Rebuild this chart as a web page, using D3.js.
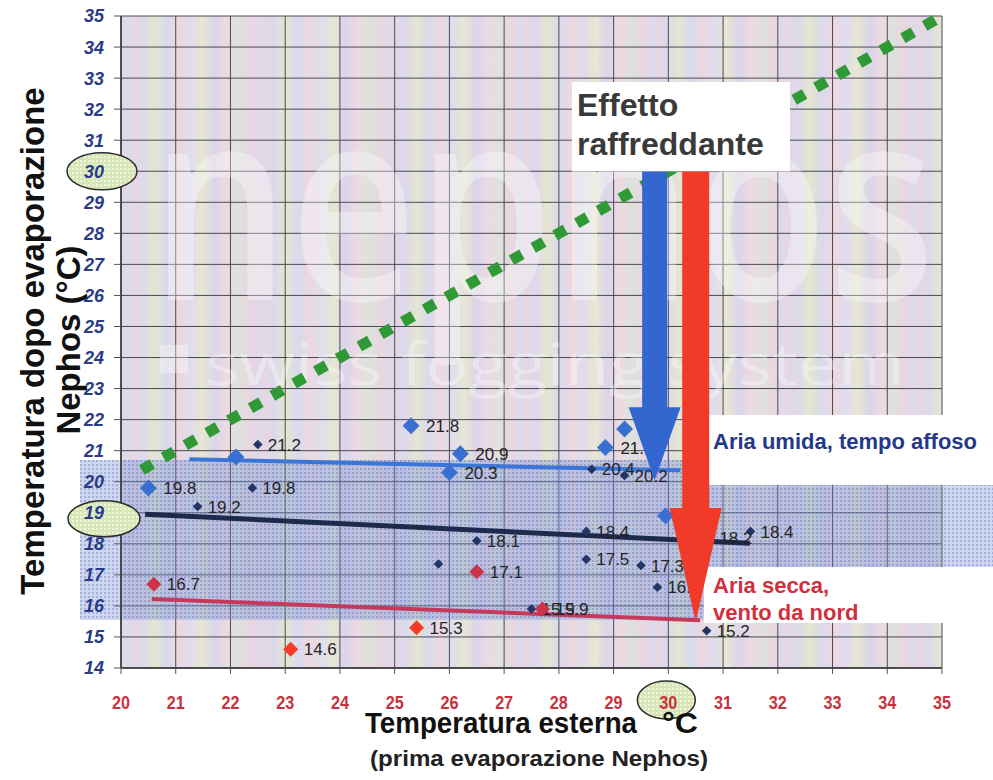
<!DOCTYPE html>
<html><head><meta charset="utf-8">
<script src="https://cdn.jsdelivr.net/npm/d3@7"></script>
<style>
html,body{margin:0;padding:0;background:#fff;}
svg{display:block;font-family:"Liberation Sans",Arial,sans-serif;}
</style></head>
<body>
<svg id="chart" width="993" height="780"></svg>
<script>
// ---------- data ----------
const xTicks = [20,21,22,23,24,25,26,27,28,29,30,31,32,33,34,35];
const yTicks = [14,15,16,17,18,19,20,21,22,23,24,25,26,27,28,29,30,31,32,33,34,35];

// "Aria umida" series (large light-blue diamonds)
const humidX = [20.5, 22.1, 25.3, 26.2, 26.0, 28.85, 29.2, 29.95];
const humidY = [19.8, 20.8, 21.8, 20.9, 20.3, 21.1, 21.7, 18.9];
const humidLabels = ["19.8", "", "21.8", "20.9", "20.3", "21.1", "21.7", "18.9"];

// average series (small navy diamonds)
const avgX = [22.5, 22.4, 21.4, 26.5, 25.8, 28.5, 28.5, 29.5, 29.8, 28.6, 29.2, 31.5, 30.75, 27.5, 30.7];
const avgY = [21.2, 19.8, 19.2, 18.1, 17.35, 18.4, 17.5, 17.3, 16.6, 20.4, 20.2, 18.4, 18.2, 15.9, 15.2];
const avgLabels = ["21.2","19.8","19.2","18.1","","18.4","17.5","17.3","16.6","20.4","20.2","18.4","18.2","15.9","15.2"];

// "Aria secca" series (red diamonds)
const dryX = [20.6, 26.5, 27.7];
const dryY = [16.7, 17.1, 15.9];
const dryLabels = ["16.7", "17.1", "15.9"];
const dry2X = [23.1, 25.4];
const dry2Y = [14.6, 15.3];
const dry2Labels = ["14.6", "15.3"];

// trend lines
const humidTrendX = [21.25, 30.22], humidTrendY = [20.72, 20.37];
const avgTrendX = [20.44, 31.49],  avgTrendY = [18.95, 18.02];
const dryTrendX = [20.56, 30.58],  dryTrendY = [16.22, 15.54];
const identityX = [20.38, 35];     // y = x (no cooling)

// cooling arrows: from 30 °C down to the trend value
const arrowX = [29.75, 30.5];
const arrowFrom = [30, 30];
const arrowTo = [20.05, 15.48];

// ---------- layout ----------
const svg = d3.select("#chart");
const x = d3.scaleLinear().domain([20,35]).range([121,942]);
const y = d3.scaleLinear().domain([14,35]).range([668,16]);
const defs = svg.append("defs");

// pastel streaky background (soft vertical gradient stripes)
const grad = defs.append("linearGradient").attr("id","streak").attr("x1","0").attr("x2","1").attr("y1","0").attr("y2","0");
const streakCols = ["#ead6e0","#dcd9ec","#e6e5cf","#d8daee","#eed8df","#dfdded","#e8e6d2","#dad5ea","#ecdae2","#dde2dc","#e9d6e0","#dadbee"];
streakCols.forEach((c,i)=>grad.append("stop").attr("offset",(i/(streakCols.length-1))).attr("stop-color",c));
const stripe = defs.append("pattern").attr("id","stripes").attr("patternUnits","userSpaceOnUse")
  .attr("width",131).attr("height",20);
stripe.append("rect").attr("width",131).attr("height",20).attr("fill","url(#streak)");

// dotted pattern for highlight bands
const dots = defs.append("pattern").attr("id","dots").attr("patternUnits","userSpaceOnUse").attr("width",4).attr("height",4);
dots.append("rect").attr("width",4).attr("height",4).attr("fill","rgba(120,145,210,0.36)");
dots.append("rect").attr("width",2).attr("height",2).attr("fill","rgba(70,95,170,0.32)");

const gdots = defs.append("pattern").attr("id","gdots").attr("patternUnits","userSpaceOnUse").attr("width",4).attr("height",4);
gdots.append("rect").attr("width",4).attr("height",4).attr("fill","#d7e6b6");
gdots.append("rect").attr("width",2).attr("height",2).attr("fill","#eef5dc");

// plot background
svg.append("rect").attr("x",x(20)).attr("y",y(35)).attr("width",x(35)-x(20)).attr("height",y(14)-y(35))
  .attr("fill","url(#stripes)");

// grid
const grid = svg.append("g");
grid.selectAll(".vg").data(xTicks).join("line")
  .attr("x1",d=>x(d)).attr("x2",d=>x(d)).attr("y1",y(35)).attr("y2",y(14))
  .attr("stroke","#4a4a55").attr("stroke-width",1);
grid.selectAll(".hg").data(yTicks).join("line")
  .attr("x1",x(20)).attr("x2",x(35)).attr("y1",d=>y(d)).attr("y2",d=>y(d))
  .attr("stroke","#4a4a55").attr("stroke-width",1);

// watermark
const wm = svg.append("g").attr("fill","#ffffff").attr("opacity",0.34).style("pointer-events","none");
wm.append("text").attr("x",150).attr("y",300).attr("font-size",270).attr("font-weight",600).attr("font-family","'Open Sans',sans-serif")
  .attr("textLength",785).attr("lengthAdjust","spacingAndGlyphs").text("nephos");
wm.append("rect").attr("x",160).attr("y",345).attr("width",28).attr("height",28);
wm.append("text").attr("x",205).attr("y",385).attr("font-size",58).attr("font-family","'Open Sans',sans-serif")
  .attr("textLength",700).attr("lengthAdjust","spacingAndGlyphs").text("swiss fogging system");

// highlight bands
svg.append("rect").attr("x",80).attr("y",y(20.7)).attr("width",x(30.65)-80).attr("height",y(15.55)-y(20.7))
  .attr("fill","url(#dots)");
svg.append("rect").attr("x",x(30.65)).attr("y",y(19.9)).attr("width",993-x(30.65)).attr("height",y(17.25)-y(19.9))
  .attr("fill","url(#dots)");
// white label boxes
svg.append("rect").attr("x",x(30.65)).attr("y",y(22.15)).attr("width",993-x(30.65)).attr("height",y(19.9)-y(22.15)).attr("fill","#fff");
svg.append("rect").attr("x",x(30.65)).attr("y",y(17.25)).attr("width",993-x(30.65)).attr("height",y(15.45)-y(17.25)).attr("fill","#fff");

// axes lines and ticks
svg.append("line").attr("x1",x(20)).attr("x2",x(20)).attr("y1",y(35)).attr("y2",y(14)).attr("stroke","#333").attr("stroke-width",1.5);
svg.append("line").attr("x1",x(20)).attr("x2",x(35)).attr("y1",y(14)).attr("y2",y(14)).attr("stroke","#333").attr("stroke-width",1.5);
svg.selectAll(".yt").data(yTicks).join("line").attr("x1",x(20)-7).attr("x2",x(20)).attr("y1",d=>y(d)).attr("y2",d=>y(d)).attr("stroke","#555");
svg.selectAll(".xt").data(xTicks).join("line").attr("x1",d=>x(d)).attr("x2",d=>x(d)).attr("y1",y(14)).attr("y2",y(14)+6).attr("stroke","#555");

// ellipses highlighting 30 / 19 / 30
const ell = [[102,y(30),35,18.5],[104,y(19)+6,36,18],[x(30)-2,700,29,19]];
svg.selectAll(".ell").data(ell).join("ellipse")
  .attr("cx",d=>d[0]).attr("cy",d=>d[1]).attr("rx",d=>d[2]).attr("ry",d=>d[3])
  .attr("fill","url(#gdots)").attr("stroke","#2c2c2c").attr("stroke-width",1.5);

// tick labels
svg.selectAll(".yl").data(yTicks).join("text")
  .attr("x",104).attr("y",d=>y(d)).attr("dy","0.36em").attr("text-anchor","end")
  .attr("font-size",18).attr("font-weight","bold").attr("font-style","italic").attr("fill","#2a3c88")
  .text(d=>d);
svg.selectAll(".xl").data(xTicks).join("text")
  .attr("x",d=>x(d)).attr("y",709).attr("text-anchor","middle")
  .attr("font-size",19).attr("font-weight","bold").attr("fill","#c8323c")
  .attr("textLength",18).attr("lengthAdjust","spacingAndGlyphs")
  .text(d=>d);

// axis titles
const yt = svg.append("g").attr("font-weight","bold").attr("font-size",33).attr("fill","#111").attr("text-anchor","middle");
yt.append("text").attr("transform","translate(44,341) rotate(-90)").text("Temperatura dopo evaporazione");
yt.append("text").attr("transform","translate(80,340) rotate(-90)").text("Nephos (°C)");
const xt = svg.append("g").attr("font-weight","bold").attr("fill","#111");
xt.append("text").attr("x",365).attr("y",733).attr("font-size",29)
  .attr("textLength",272).attr("lengthAdjust","spacingAndGlyphs").text("Temperatura esterna");
xt.append("text").attr("x",662).attr("y",733).attr("font-size",29)
  .attr("textLength",36).attr("lengthAdjust","spacingAndGlyphs").text("°C");
xt.append("text").attr("x",370).attr("y",766).attr("font-size",22).attr("fill","#222")
  .attr("textLength",338).attr("lengthAdjust","spacingAndGlyphs").text("(prima evaporazione Nephos)");

// identity (dotted green) line
svg.append("line").attr("x1",x(identityX[0])).attr("y1",y(identityX[0])).attr("x2",x(identityX[1])).attr("y2",y(identityX[1]))
  .attr("stroke","#2f9a35").attr("stroke-width",11).attr("stroke-dasharray","12,13");

// trend lines
const line = d3.line().x(d=>x(d[0])).y(d=>y(d[1]));
function trend(xs, ys, col, w){
  svg.append("path").attr("d", line(d3.zip(xs,ys))).attr("stroke",col).attr("stroke-width",w).attr("fill","none");
}
trend(humidTrendX, humidTrendY, "#3b76d6", 4);
trend(avgTrendX, avgTrendY, "#1d2a4c", 5);
trend(dryTrendX, dryTrendY, "#c53a5c", 4);

// points
function diamonds(xs, ys, labels, col, r, off){
  const g = svg.append("g");
  const data = d3.zip(xs, ys, labels);
  g.selectAll("path").data(data).join("path")
    .attr("d", `M0,${-r}L${r},0L0,${r}L${-r},0Z`)
    .attr("transform", d=>`translate(${x(d[0])},${y(d[1])})`)
    .attr("fill", col);
  g.selectAll("text").data(data.filter(d=>d[2])).join("text")
    .attr("x", d=>x(d[0])+off).attr("y", d=>y(d[1])).attr("dy","0.36em")
    .attr("font-size",17).attr("fill","#252525").text(d=>d[2]);
}
diamonds(humidX, humidY, humidLabels, "#3a6fd2", 8.5, 15);
diamonds(avgX, avgY, avgLabels, "#223566", 4.8, 10);
diamonds(dryX, dryY, dryLabels, "#cc3348", 7.5, 13);
diamonds(dry2X, dry2Y, dry2Labels, "#f53a2a", 7.5, 13);

// arrows
function arrow(cx, y0, y1, shaftW, headW, headL, col){
  const t = y(y0), b = y(y1), hy = b - headL;
  const pts = [[cx-shaftW/2,t],[cx+shaftW/2,t],[cx+shaftW/2,hy],[cx+headW/2,hy],[cx,b],[cx-headW/2,hy],[cx-shaftW/2,hy]];
  svg.append("path").attr("d","M"+pts.map(p=>p.join(",")).join("L")+"Z").attr("fill",col);
}
arrow(x(arrowX[0]), arrowFrom[0], arrowTo[0], 25, 52, 73, "#3466cf");
arrow(x(arrowX[1]), arrowFrom[1], arrowTo[1], 27, 52, 114, "#f23a28");

// Effetto raffreddante box
svg.append("rect").attr("x",572).attr("y",82).attr("width",218).attr("height",y(30)-82).attr("fill","#fff");
const ef = svg.append("g").attr("font-weight","bold").attr("font-size",32).attr("fill","#3a3a3a");
ef.append("text").attr("x",577).attr("y",116).text("Effetto");
ef.append("text").attr("x",577).attr("y",155).text("raffreddante");

// annotation labels
svg.append("text").attr("x",713).attr("y",449).attr("font-size",22).attr("font-weight","bold").attr("fill","#24388a").text("Aria umida, tempo affoso");
const dr = svg.append("g").attr("font-size",22).attr("font-weight","bold").attr("fill","#d22f3e");
dr.append("text").attr("x",713).attr("y",593).text("Aria secca,");
dr.append("text").attr("x",713).attr("y",620).text("vento da nord");
</script>
</body></html>
